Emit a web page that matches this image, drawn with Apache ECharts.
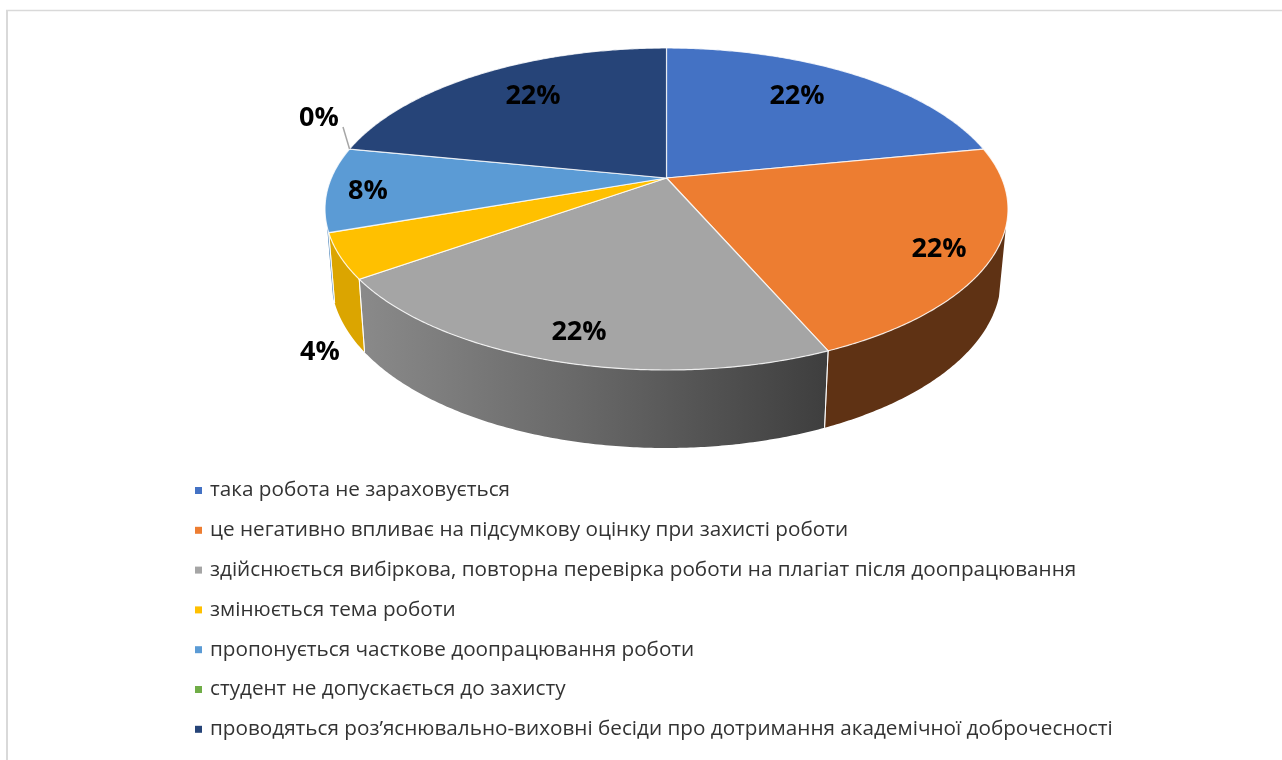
<!DOCTYPE html>
<html>
<head>
<meta charset="utf-8">
<style>html,body{margin:0;padding:0;background:#fff}#c{width:1282px;height:760px}</style>
<script src="https://cdn.jsdelivr.net/npm/echarts@6/dist/echarts.min.js"></script>
</head>
<body>
<div id="c"></div>
<script>
const categories = [
  'така робота не зараховується',
  'це негативно впливає на підсумкову оцінку при захисті роботи',
  'здійснюється вибіркова, повторна перевірка роботи на плагіат після доопрацювання',
  'змінюється тема роботи',
  'пропонується часткове доопрацювання роботи',
  'студент не допускається до захисту',
  'проводяться роз’яснювально-виховні бесіди про дотримання академічної доброчесності'
];
const values = [21.9, 21.6, 21.65, 4.49, 8.46, 0, 21.9];

const topColors = ['#4472C4', '#ED7D31', '#A5A5A5', '#FFC000', '#5B9BD5', '#70AD47', '#264478'];
const wallColors = ['#29447A', '#5F3214', null, '#DBA500', '#3A78B4', '#44682B', '#172A4A'];
const labelAnchors = [[797, 96], [939, 249], [579, 332], [320, 352], [368, 191], [319, 118], [533, 96]];

const TOP = { cx: 666.5, cy: 209, rx: 341.5, ry: 161 };
const BOTTOM = { cx: 666, cy: 278, rx: 335, ry: 170 };
const APEX_Y = 178;
const SILHOUETTE_V = 0.11;
const v0 = (APEX_Y - TOP.cy) / TOP.ry;
const k = Math.sqrt(1 - v0 * v0);
const total = values.reduce((a, b) => a + b, 0);

function project(frac) {
  const t = 2 * Math.PI * frac;
  const a = Math.sin(t), b = -Math.cos(t);
  const d = 1 + b * v0;
  return [a * k / d, (b + v0) / d];
}
const onEllipse = (e, p) => [e.cx + e.rx * p[0], e.cy + e.ry * p[1]];

function renderSlice(params, api) {
  const i = params.seriesIndex;
  const start = values.slice(0, i).reduce((a, b) => a + b, 0) / total;
  const span = api.value(0) / total;
  const steps = Math.max(1, Math.ceil(span * 720));
  const rim = [];
  for (let s = 0; s <= steps; s++) rim.push(project(start + span * s / steps));
  const topArc = rim.map(p => onEllipse(TOP, p));
  const children = [];
  if (span > 0) {
    const front = rim.filter(p => p[1] >= SILHOUETTE_V);
    if (front.length > 1) {
      const frontTop = front.map(p => onEllipse(TOP, p));
      const frontBot = front.map(p => onEllipse(BOTTOM, p));
      const wallFill = wallColors[i] || new echarts.graphic.LinearGradient(0, 0, 1, 0, [
        { offset: 0, color: '#8A8A8A' }, { offset: 0.5, color: '#666666' }, { offset: 1, color: '#3E3E3E' }
      ]);
      children.push({
        type: 'polygon', silent: true, z2: 1,
        shape: { points: frontTop.concat(frontBot.slice().reverse()) },
        style: { fill: wallFill }
      });
      [0, front.length - 1].forEach(n => {
        if (front[n][1] < SILHOUETTE_V + 0.005) return;
        children.push({
          type: 'line', silent: true, z2: 2,
          shape: { x1: frontTop[n][0], y1: frontTop[n][1], x2: frontBot[n][0], y2: frontBot[n][1] },
          style: { stroke: 'rgba(255,255,255,0.85)', lineWidth: 1 }
        });
      });
    }
    children.push({
      type: 'polygon', silent: true, z2: 10,
      shape: { points: [[TOP.cx, APEX_Y]].concat(topArc) },
      style: { fill: api.visual('color'), stroke: 'rgba(255,255,255,0.8)', lineWidth: 1.2 }
    });
  } else {
    const tip = topArc[0];
    children.push({
      type: 'line', silent: true, z2: 11,
      shape: { x1: tip[0], y1: tip[1], x2: labelAnchors[i][0] + 24, y2: labelAnchors[i][1] + 9 },
      style: { stroke: '#A6A6A6', lineWidth: 1.5 }
    });
  }
  children.push({
    type: 'text', silent: true, z2: 20,
    x: labelAnchors[i][0], y: labelAnchors[i][1],
    style: {
      text: Math.round(api.value(0) / total * 100) + '%',
      font: 'bold 27px "Open Sans", sans-serif',
      fill: '#000', textAlign: 'center', textVerticalAlign: 'middle'
    }
  });
  return { type: 'group', children };
}

const chart = echarts.init(document.getElementById('c'), null, { renderer: 'canvas' });
chart.setOption({
  animation: false,
  backgroundColor: '#fff',
  tooltip: { show: false },
  graphic: [
    { type: 'line', silent: true, shape: { x1: 6, y1: 10.5, x2: 1282, y2: 10.5 }, style: { stroke: '#D9D9D9', lineWidth: 1.5 } },
    { type: 'line', silent: true, shape: { x1: 7, y1: 10, x2: 7, y2: 760 }, style: { stroke: '#D9D9D9', lineWidth: 2 } }
  ],
  legend: {
    orient: 'vertical', left: 195, top: 480, padding: 0,
    itemWidth: 7, itemHeight: 7, itemGap: 18.8, icon: 'rect',
    selectedMode: false,
    textStyle: { fontFamily: '"Open Sans", sans-serif', fontSize: 20.7, color: '#333', lineHeight: 20, padding: [0, 0, 0, 3] },
    data: categories
  },
  series: categories.map((name, i) => ({
    type: 'custom',
    name,
    coordinateSystem: 'none',
    silent: true,
    itemStyle: { color: topColors[i] },
    renderItem: renderSlice,
    data: [[values[i]]]
  }))
});
</script>
</body>
</html>
